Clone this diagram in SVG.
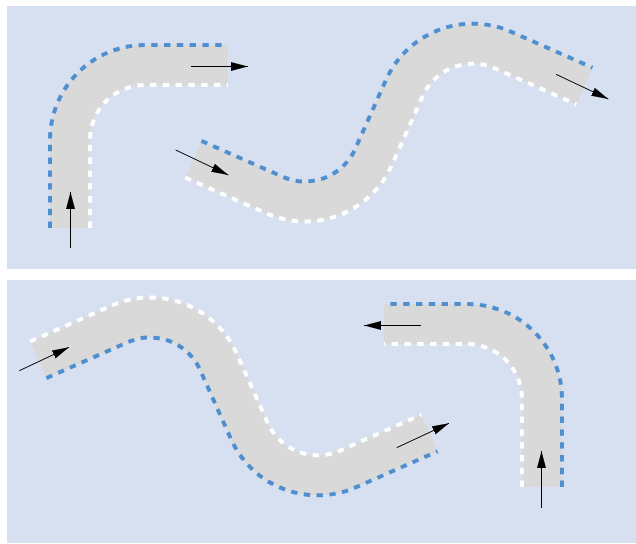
<svg xmlns="http://www.w3.org/2000/svg" xmlns:xlink="http://www.w3.org/1999/xlink" width="636" height="544" viewBox="0 0 636 544">
  <style>
    .panel { fill: #d7e0f0; }
    .road { fill: none; stroke: #d9d9d9; stroke-width: 40; stroke-linecap: butt; stroke-linejoin: round; }
    .edge-blue { fill: none; stroke: #4f8ecf; stroke-width: 4; stroke-dasharray: 6.4 6.4; stroke-linecap: butt; }
    .edge-white { fill: none; stroke: #ffffff; stroke-width: 4; stroke-dasharray: 6.4 6.4; stroke-linecap: butt; }
    .arrow { fill: none; stroke: #000000; stroke-width: 1; marker-end: url(#ah); }
  </style>
  <defs>
    <marker id="ah" viewBox="-17 -5 17 10" refX="0" refY="0" markerWidth="17" markerHeight="10" markerUnits="userSpaceOnUse" orient="auto">
      <path d="M0,0 L-17,-4.5 L-17,4.5 Z" fill="#000000"/>
    </marker>
    <!-- corner road -->
    <path id="cornerC" d="M70,228 L70,140 A75,75 0 0 1 145,65 L228,65"/>
    <path id="cornerB" d="M50,228 L50,140 A95,95 0 0 1 145,45 L228,45"/>
    <path id="cornerW" d="M90,228 L90,140 A55,55 0 0 1 145,85 L228,85"/>
    <!-- S road -->
    <path id="sC" d="M193.3,159.2 L274.7,195.1 A75,75 0 0 0 373.5,157.1 L404.3,88.1 A75,75 0 0 1 503.1,50.1 L584.5,86"/>
    <path id="sB" d="M201.4,140.9 L282.8,176.8 A55,55 0 0 0 355.2,148.9 L386,79.9 A95,95 0 0 1 511.2,31.8 L592.6,67.7"/>
    <path id="sW" d="M185.2,177.5 L266.6,213.4 A95,95 0 0 0 391.8,165.3 L422.6,96.3 A55,55 0 0 1 495,68.4 L576.4,104.3"/>
  </defs>

  <g id="panels">
    <rect class="panel" x="7" y="6" width="629" height="263"/>
    <rect class="panel" x="7" y="280" width="629" height="263"/>
  </g>

  <g id="road1">
    <use href="#cornerC" class="road"/>
    <use href="#cornerB" class="edge-blue"/>
    <use href="#cornerW" class="edge-white"/>
  </g>

  <g id="road2">
    <use href="#sC" class="road"/>
    <use href="#sB" class="edge-blue"/>
    <use href="#sW" class="edge-white"/>
  </g>

  <g id="road3" transform="translate(-155,519) scale(1,-1)">
    <use href="#sC" class="road"/>
    <use href="#sB" class="edge-blue"/>
    <use href="#sW" class="edge-white"/>
  </g>

  <g id="road4" transform="translate(612,259) scale(-1,1)">
    <use href="#cornerC" class="road"/>
    <use href="#cornerB" class="edge-blue"/>
    <use href="#cornerW" class="edge-white"/>
  </g>

  <g id="connectors">
    <line class="arrow" x1="70.5" y1="248" x2="70.5" y2="192"/>
    <line class="arrow" x1="191" y1="66.5" x2="248" y2="66.5"/>
    <line class="arrow" x1="175.7" y1="150" x2="228.3" y2="175"/>
    <line class="arrow" x1="556" y1="74.3" x2="608.3" y2="99"/>
    <line class="arrow" x1="19.3" y1="370.7" x2="69" y2="347.3"/>
    <line class="arrow" x1="396.7" y1="447.7" x2="449" y2="423.3"/>
    <line class="arrow" x1="421" y1="325.5" x2="364" y2="325.5"/>
    <line class="arrow" x1="541.5" y1="508" x2="541.5" y2="451"/>
  </g>
</svg>
